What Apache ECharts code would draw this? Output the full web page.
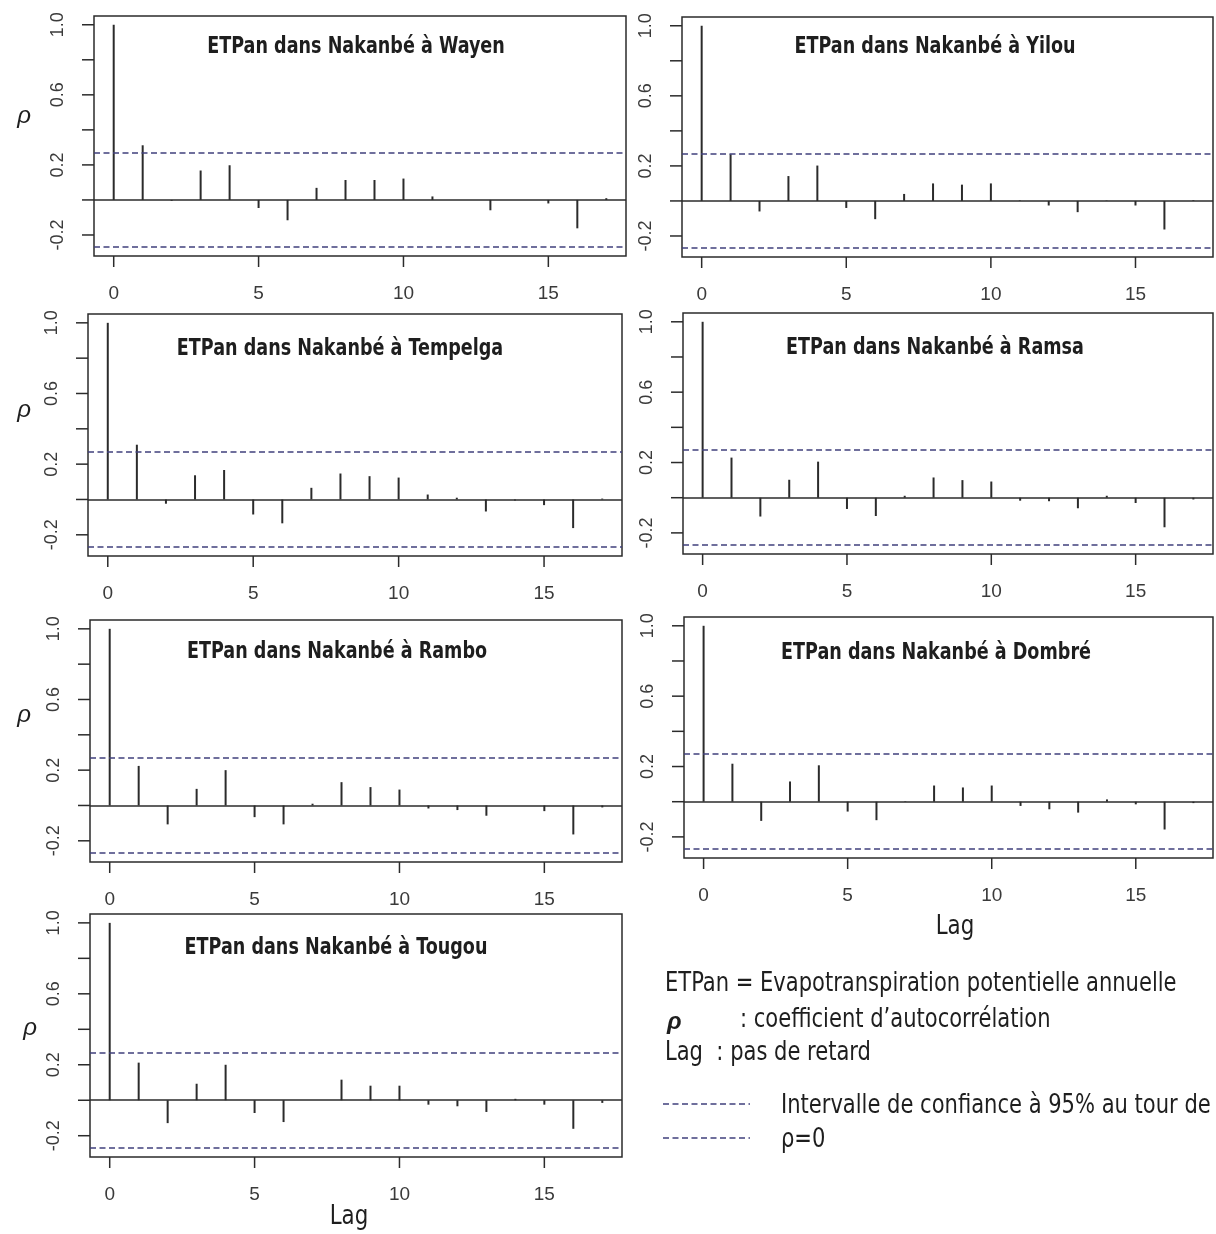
<!DOCTYPE html>
<html lang="fr">

<head>
  <meta charset="UTF-8">
  <title>ACF ETPan - Nakanbé</title>
  <script src="https://cdn.jsdelivr.net/npm/echarts@6/dist/echarts.min.js"></script>
  <style>
    html, body { margin: 0; padding: 0; background: #fff; }
    #chart { width: 1216px; height: 1234px; }
  </style>
</head>

<body>
  <div id="chart"></div>
  <script>
    // lags 0..17 and autocorrelation values
    const lags = [0, 1, 2, 3, 4, 5, 6, 7, 8, 9, 10, 11, 12, 13, 14, 15, 16, 17];
    const stations = ['Wayen', 'Yilou', 'Tempelga', 'Ramsa', 'Rambo', 'Dombré', 'Tougou'];

    const acfWayen = [1.0, 0.312, -0.005, 0.168, 0.198, -0.046, -0.116, 0.069, 0.114, 0.114, 0.122, 0.02, 0.0, -0.059, 0.0, -0.02, -0.162, 0.01];
    const acfYilou = [1.0, 0.267, -0.06, 0.142, 0.202, -0.04, -0.104, 0.04, 0.1, 0.093, 0.1, 0.003, -0.026, -0.064, 0.002, -0.026, -0.163, 0.004];
    const acfTempelga = [1.0, 0.31, -0.024, 0.137, 0.167, -0.085, -0.135, 0.066, 0.147, 0.132, 0.124, 0.028, 0.01, -0.068, -0.006, -0.032, -0.162, 0.005];
    const acfRamsa = [1.0, 0.228, -0.107, 0.102, 0.205, -0.064, -0.104, 0.011, 0.115, 0.1, 0.092, -0.017, -0.02, -0.06, 0.011, -0.03, -0.168, -0.01];
    const acfRambo = [1.0, 0.224, -0.107, 0.094, 0.2, -0.066, -0.107, 0.01, 0.132, 0.104, 0.09, -0.017, -0.026, -0.058, 0.0, -0.032, -0.164, -0.011];
    const acfDombre = [1.0, 0.216, -0.109, 0.115, 0.207, -0.056, -0.105, 0.003, 0.092, 0.081, 0.092, -0.024, -0.043, -0.062, 0.013, -0.015, -0.158, -0.008];
    const acfTougou = [1.0, 0.212, -0.129, 0.093, 0.2, -0.072, -0.123, 0.0, 0.116, 0.082, 0.082, -0.025, -0.034, -0.066, 0.008, -0.025, -0.161, -0.015];

    // 95% confidence bound around rho = 0
    const ciLevel = 0.27;

    const xTicks = [0, 5, 10, 15];
    const yTicks = [-0.2, 0, 0.2, 0.4, 0.6, 0.8, 1.0];
    const yLabels = [-0.2, 0.2, 0.6, 1.0];

    const acfData = [acfWayen, acfYilou, acfTempelga, acfRamsa, acfRambo, acfDombre, acfTougou];

    // panel boxes (plot region) and title centres
    const panels = [
      { left: 94, top: 16, width: 532, height: 240, tx: 356, ty: 47 },
      { left: 682, top: 17, width: 531, height: 240, tx: 935, ty: 47 },
      { left: 88, top: 314, width: 534, height: 242, tx: 340, ty: 349 },
      { left: 683, top: 313, width: 530, height: 241, tx: 935, ty: 348 },
      { left: 90, top: 620, width: 532, height: 242, tx: 337, ty: 652 },
      { left: 684, top: 617, width: 529, height: 241, tx: 936, ty: 653 },
      { left: 90, top: 914, width: 532, height: 243, tx: 336, ty: 948 }
    ];

    const xMin = -0.68, xMax = 17.68, yMin = -0.32, yMax = 1.05;

    const ink = '#2b2b2b';
    const ciColor = '#40407c';
    const narrow = "'Liberation Sans Narrow', 'Arial Narrow', 'DejaVu Sans Condensed', sans-serif";

    let myChart = echarts.init(document.getElementById('chart'), null, { renderer: 'canvas' });

    let grids = [], xAxes = [], yAxes = [], series = [], graphics = [];

    // condensed text helper (no narrow font installed, so squeeze horizontally)
    function addText(x, y, text, font, align, sx) {
      graphics.push({
        type: 'text', x: x, y: y, scaleX: sx,
        style: { text: text, font: font, fill: '#1e1e1e', textAlign: align, textVerticalAlign: 'middle' }
      });
    }

    panels.forEach(function (p, i) {
      grids.push({
        left: p.left, top: p.top, width: p.width, height: p.height,
        show: true, borderColor: ink, borderWidth: 1.5, backgroundColor: 'transparent'
      });
      xAxes.push({
        type: 'value', gridIndex: i, min: xMin, max: xMax,
        axisLine: { show: false, onZero: false },
        axisTick: { show: false },
        splitLine: { show: false },
        axisLabel: { customValues: xTicks.slice(), margin: 28, fontSize: 19, color: '#3a3a3a' }
      });
      yAxes.push({
        type: 'value', gridIndex: i, min: yMin, max: yMax,
        axisLine: { show: false, onZero: false },
        axisTick: { show: false },
        splitLine: { show: false },
        axisLabel: {
          customValues: yLabels.slice(), rotate: 90, margin: 27, fontSize: 18, color: '#3a3a3a',
          formatter: function (v) { return v.toFixed(1); }
        }
      });
      series.push({
        type: 'bar', xAxisIndex: i, yAxisIndex: i,
        barWidth: 2,
        itemStyle: { color: ink },
        data: lags.map(function (l, k) { return [l, acfData[i][k]]; }),
        markLine: {
          silent: true, symbol: 'none', label: { show: false },
          data: [
            { yAxis: 0, lineStyle: { color: ink, width: 1.5, type: 'solid' } },
            { yAxis: ciLevel, lineStyle: { color: ciColor, width: 1.6, type: [6, 3.5] } },
            { yAxis: -ciLevel, lineStyle: { color: ciColor, width: 1.6, type: [6, 3.5] } }
          ]
        }
      });
      addText(p.tx, p.ty, 'ETPan dans Nakanbé à ' + stations[i], 'bold 23px ' + narrow, 'center', 0.85);
    });

    // rho labels on the left column
    [[24, 116], [24, 410], [24, 715], [30, 1028]].forEach(function (pos) {
      addText(pos[0], pos[1], 'ρ', 'italic 24px sans-serif', 'center', 1);
    });

    // Lag axis titles
    addText(955, 927, 'Lag', '27px ' + narrow, 'center', 0.88);
    addText(349, 1217, 'Lag', '27px ' + narrow, 'center', 0.88);

    // explanatory note
    addText(665, 984, 'ETPan = Evapotranspiration potentielle annuelle', '26px ' + narrow, 'left', 0.9);
    addText(667, 1022, 'ρ', 'italic bold 24px sans-serif', 'left', 1);
    addText(740, 1020, ': coefficient d’autocorrélation', '26px ' + narrow, 'left', 0.9);
    addText(665, 1053, 'Lag  : pas de retard', '26px ' + narrow, 'left', 0.9);
    addText(781, 1106, 'Intervalle de confiance à 95% au tour de', '26px ' + narrow, 'left', 0.9);
    addText(781, 1140, 'ρ=0', '26px ' + narrow, 'left', 0.9);
    [1104, 1138].forEach(function (y) {
      graphics.push({
        type: 'line', shape: { x1: 663, y1: y, x2: 750, y2: y },
        style: { stroke: ciColor, lineWidth: 1.6, lineDash: [6, 3.5] }
      });
    });

    let option = {
      animation: false,
      backgroundColor: '#fff',
      grid: grids,
      xAxis: xAxes,
      yAxis: yAxes,
      series: series,
      graphic: graphics
    };

    myChart.setOption(option);

    // outward tick marks on the box edges, positioned through each grid's scales
    let tickLines = [];
    panels.forEach(function (p, i) {
      yTicks.forEach(function (v) {
        const pt = myChart.convertToPixel({ gridIndex: i }, [xMin, v]);
        tickLines.push({
          type: 'line', z: 10,
          shape: { x1: pt[0] - 12, y1: pt[1], x2: pt[0], y2: pt[1] },
          style: { stroke: ink, lineWidth: 1.5 }
        });
      });
      xTicks.forEach(function (v) {
        const pt = myChart.convertToPixel({ gridIndex: i }, [v, yMin]);
        tickLines.push({
          type: 'line', z: 10,
          shape: { x1: pt[0], y1: pt[1], x2: pt[0], y2: pt[1] + 11 },
          style: { stroke: ink, lineWidth: 1.5 }
        });
      });
    });

    myChart.setOption({ graphic: graphics.concat(tickLines) });

    window.onresize = function () {
      myChart.resize();
    }
  </script>
</body>

</html>
